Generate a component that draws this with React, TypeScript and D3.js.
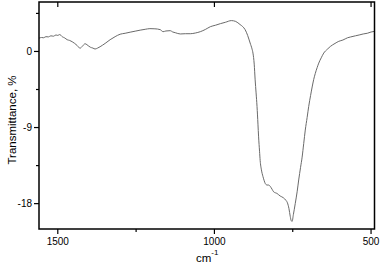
import * as React from 'react'
import { useEffect, useRef } from 'react'
import * as d3 from 'd3'

// IR spectrum
const wavenumbers = [
  1560, 1552, 1545, 1538, 1530, 1522, 1514, 1506, 1500, 1494, 1486, 1478, 1470, 1462, 1454,
  1446, 1438, 1429, 1422, 1413, 1407, 1403, 1396, 1388, 1381, 1373, 1365, 1349, 1333,
  1317, 1301, 1285, 1269, 1253, 1237, 1221, 1206, 1190, 1173, 1164, 1155, 1141, 1133,
  1125, 1109, 1093, 1077, 1061, 1045, 1029, 1013, 997, 981, 965, 946,
  932, 918, 910, 902, 894, 886, 880, 877, 873, 870, 867, 864, 861, 859, 856, 854,
  850, 845, 841, 838, 832, 827, 822, 816, 811, 800, 790, 780, 772, 767, 762, 758,
  755, 752, 748, 742, 736, 731, 725, 720, 715, 710, 704, 699, 693, 688, 683, 678,
  672, 667, 659, 651, 640, 630, 615, 603, 590, 575, 566, 550, 538, 525, 512, 500, 489,
]
const transmittance = [
  1.57, 1.65, 1.62, 1.75, 1.72, 1.85, 1.8, 1.95, 1.9, 2.0, 1.75, 1.6, 1.39, 1.3, 1.15,
  0.95, 0.7, 0.38, 0.6, 0.91, 0.8, 0.68, 0.5, 0.4, 0.29, 0.4, 0.56, 0.95, 1.39,
  1.75, 2.04, 2.15, 2.28, 2.4, 2.52, 2.62, 2.7, 2.68, 2.58, 2.34, 2.42, 2.46, 2.3,
  2.22, 2.07, 2.1, 2.1, 2.18, 2.34, 2.6, 2.93, 3.1, 3.29, 3.45, 3.65,
  3.55, 3.18, 2.95, 2.58, 1.9, 1.0, 0.3, -0.19, -1.5, -3.36, -4.9, -6.5, -8.6, -10.1, -11.8, -12.9,
  -14.0, -14.8, -15.3, -15.6, -15.8, -15.8, -15.95, -16.3, -16.6, -16.8, -17.1, -17.3, -17.6, -17.9, -18.6, -19.5,
  -20.0, -20.1, -19.3, -18.0, -16.6, -15.2, -13.7, -12.5, -10.9, -9.3, -7.8, -6.5, -5.2, -4.2, -3.3, -2.6,
  -1.9, -1.38, -0.75, -0.19, 0.25, 0.59, 0.95, 1.2, 1.35, 1.62, 1.71, 1.85, 1.95, 2.07, 2.15, 2.3, 2.38,
]
const xMajor = [1500, 1000, 500]
const xMinor = [1250, 750]
const yMajor = [0, -9, -18]
const yMinor = [4.5, -4.5, -13.5]

const W = 380
const H = 267
const m = { left: 39, right: 5.5, top: 2, bottom: 38 }
const font = 'Arial, "Liberation Sans", sans-serif'

const App = () => {
  const ref = useRef<SVGSVGElement | null>(null)

  useEffect(() => {
    const svg = d3.select(ref.current)
    svg.selectAll('*').remove()

    const x = d3.scaleLinear().domain([1560, 489]).range([m.left, W - m.right])
    const y = d3.scaleLinear().domain([-21, 5.85]).range([H - m.bottom, m.top])
    const x0 = m.left, x1 = W - m.right, y0 = H - m.bottom, y1 = m.top

    const line = d3.line<number>()
      .x((d, i) => x(wavenumbers[i]))
      .y(d => y(d))
      .curve(d3.curveMonotoneX)

    svg.append('path')
      .datum(transmittance)
      .attr('fill', 'none')
      .attr('stroke', '#6a6a6a')
      .attr('stroke-width', 1)
      .attr('d', line)

    // frame
    svg.append('rect')
      .attr('x', x0).attr('y', y1)
      .attr('width', x1 - x0).attr('height', y0 - y1)
      .attr('fill', 'none').attr('stroke', '#000').attr('stroke-width', 1.5)

    const g = svg.append('g').attr('stroke', '#000').attr('stroke-width', 1.2)
    xMajor.forEach(v => {
      g.append('line').attr('x1', x(v)).attr('x2', x(v)).attr('y1', y0).attr('y2', y0 + 5)
      g.append('line').attr('x1', x(v)).attr('x2', x(v)).attr('y1', y1).attr('y2', y1 + 5)
    })
    xMinor.forEach(v => {
      g.append('line').attr('x1', x(v)).attr('x2', x(v)).attr('y1', y0).attr('y2', y0 + 3)
    })
    yMajor.forEach(v => {
      g.append('line').attr('x1', x0 - 5).attr('x2', x0).attr('y1', y(v)).attr('y2', y(v))
    })
    yMinor.forEach(v => {
      g.append('line').attr('x1', x0 - 3).attr('x2', x0).attr('y1', y(v)).attr('y2', y(v))
    })

    svg.append('g').selectAll('text').data(xMajor).enter().append('text')
      .attr('x', d => x(d)).attr('y', y0 + 16)
      .attr('text-anchor', 'middle')
      .attr('font-family', font).attr('font-size', 10)
      .text(d => d)

    svg.append('g').selectAll('text').data(yMajor).enter().append('text')
      .attr('x', x0 - 7).attr('y', d => y(d) + 3.5)
      .attr('text-anchor', 'end')
      .attr('font-family', font).attr('font-size', 10)
      .text(d => d)

    svg.append('text')
      .attr('transform', `translate(15.5, 120) rotate(-90)`)
      .attr('text-anchor', 'middle')
      .attr('font-family', font).attr('font-size', 11.5)
      .text('Transmittance, %')

    const t = svg.append('text')
      .attr('x', 196).attr('y', 262)
      .attr('font-family', font).attr('font-size', 11.5)
    t.append('tspan').text('cm')
    t.append('tspan').attr('dy', -7).attr('font-size', 8).text('-1')
  }, [])

  return (
    <svg ref={ref} width={W} height={H}
      style={{ position: 'absolute', left: 0, top: 0, background: '#fff' }} />
  )
}

export default App
